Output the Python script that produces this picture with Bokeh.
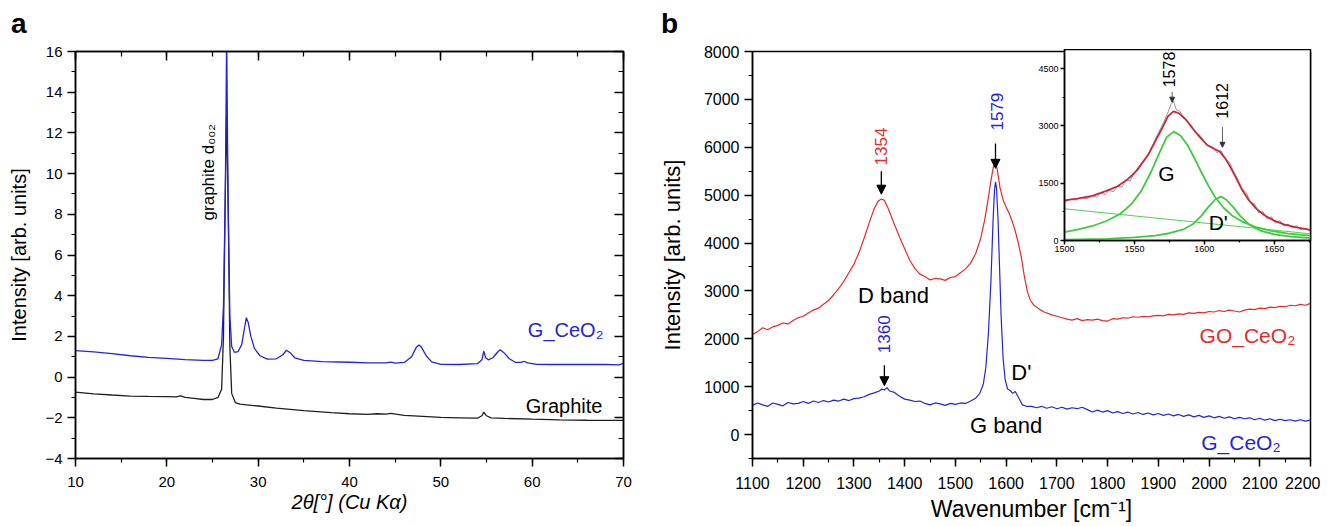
import math
from bokeh.plotting import figure
from bokeh.layouts import row
from bokeh.models import (LinearAxis, Range1d, SingleIntervalTicker, Arrow, NormalHead,
                          CustomLabelingPolicy, Div)
from bokeh.core.properties import value
from bokeh.embed import file_html
from bokeh.resources import INLINE

FONT = "Liberation Sans"
BLUE = "#2424d8"
RED = "#e42a2a"
GREEN = "#3ccc3c"

# ---------------- panel a : XRD ----------------
xrd_ceo2_x = [10, 12, 14, 16, 18, 20, 22, 24, 25, 25.6, 26.0, 26.2, 26.4, 26.55, 26.7, 26.9, 27.1,
              27.4, 27.8, 28.2, 28.5, 28.7, 28.9, 29.2, 29.6, 30.2, 31, 32, 32.7, 33.1, 33.5, 34, 35,
              37, 40, 42, 44, 44.5, 45, 46, 46.8, 47.3, 47.6, 47.9, 48.4, 49, 50, 52, 54, 54.5, 54.7,
              54.9, 55.2, 55.7, 56.2, 56.5, 56.9, 57.5, 58.2, 58.8, 59.1, 59.5, 60.5, 62, 65, 68, 69.5, 70]
xrd_ceo2_y = [1.30, 1.24, 1.15, 1.05, 0.97, 0.92, 0.86, 0.82, 0.82, 0.90, 1.6, 3.5, 9.0, 16.8, 9.0, 3.0, 1.5,
              1.22, 1.25, 1.6, 2.4, 2.92, 2.7, 2.0, 1.4, 1.05, 0.88, 0.90, 1.10, 1.32, 1.20, 0.95, 0.82,
              0.76, 0.73, 0.70, 0.70, 0.74, 0.69, 0.72, 1.00, 1.45, 1.58, 1.45, 1.05, 0.75, 0.63, 0.62, 0.66, 0.85, 1.28,
              0.95, 0.85, 0.95, 1.22, 1.34, 1.20, 0.90, 0.72, 0.72, 0.78, 0.70, 0.63, 0.62, 0.63, 0.62, 0.60, 0.68]

xrd_graphite_x = [10, 12, 14, 16, 18, 20, 21, 21.5, 22, 23, 24, 25, 25.6, 26.0, 26.2, 26.4, 26.55, 26.7, 26.9,
                  27.1, 27.5, 28, 30, 32, 35, 38, 40, 42, 43, 44, 44.5, 46, 48, 50, 52, 54, 54.5, 54.7, 55,
                  55.5, 57, 60, 63, 66, 70]
xrd_graphite_y = [-0.74, -0.82, -0.88, -0.93, -0.95, -0.96, -0.97, -0.92, -1.00, -1.05, -1.10, -1.10, -1.00,
                  -0.60, 2.0, 9.0, 12.9, 9.0, 1.5, -0.80, -1.25, -1.33, -1.42, -1.52, -1.65, -1.75, -1.80,
                  -1.83, -1.80, -1.82, -1.78, -1.88, -1.93, -1.98, -2.00, -2.02, -1.90, -1.72, -1.90, -2.00,
                  -2.03, -2.07, -2.10, -2.12, -2.13]

a_sample_text = ["G_CeO\u2082", "Graphite"]
a_sample_x = [67.8, 67.7]
a_sample_y = [2.3, -1.4]
a_sample_color = [BLUE, "black"]
a_peak_text = ["graphite   d\u2080\u2080\u2082"]
a_peak_x = [24.6]
a_peak_y = [7.7]

# ---------------- panel b : Raman ----------------
raman_g_x = [1100, 1110, 1120, 1130, 1140, 1150, 1160, 1170, 1180, 1190, 1200, 1210, 1220, 1230, 1240, 1250,
             1260, 1270, 1280, 1290, 1300, 1310, 1320, 1330, 1340, 1350, 1355, 1360, 1365, 1370, 1380, 1390,
             1400, 1410, 1420, 1430, 1440, 1450, 1460, 1470, 1480, 1490, 1500, 1510, 1520, 1530, 1540, 1548,
             1555, 1560, 1565, 1570, 1574, 1577, 1579, 1581, 1584, 1587, 1590, 1594, 1598, 1603, 1608, 1613,
             1618, 1622, 1627, 1632, 1640, 1650, 1660, 1670, 1680, 1690, 1700, 1710, 1720, 1730, 1740, 1750,
             1760, 1770, 1780, 1790, 1800, 1810, 1820, 1830, 1840, 1850, 1860, 1870, 1880, 1890, 1900, 1910,
             1920, 1930, 1940, 1950, 1960, 1970, 1980, 1990, 2000, 2010, 2020, 2030, 2040, 2050, 2060, 2070,
             2080, 2090, 2100, 2110, 2120, 2130, 2140, 2150, 2160, 2170, 2180, 2190, 2200]
raman_g_y = [610, 660, 620, 590, 660, 630, 600, 670, 640, 650, 690, 650, 700, 670, 710, 680,
             720, 700, 740, 710, 750, 760, 790, 840, 870, 910, 950, 930, 980, 910, 880, 800,
             740, 720, 690, 700, 650, 620, 660, 640, 610, 650, 630, 660, 650, 700, 760, 860,
             1050, 1400, 2100, 3200, 4400, 5100, 5280, 5150, 4500, 3500, 2500, 1600, 1150, 950, 920, 860,
             900, 820, 720, 620, 590, 590, 560, 590, 550, 580, 540, 570, 530, 560, 540, 570,
             520, 470, 510, 470, 500, 450, 480, 440, 470, 430, 460, 420, 450, 410, 440, 400,
             430, 390, 420, 380, 410, 370, 400, 360, 390, 350, 380, 340, 370, 330, 360, 330,
             350, 310, 340, 300, 330, 290, 320, 290, 310, 280, 310, 280, 300]

raman_go_x = [1100, 1110, 1120, 1130, 1140, 1150, 1160, 1170, 1180, 1190, 1200, 1210, 1220, 1230, 1240, 1250,
              1260, 1270, 1280, 1290, 1300, 1310, 1320, 1330, 1340, 1348, 1354, 1360, 1366, 1372, 1380, 1390,
              1400, 1410, 1420, 1430, 1440, 1450, 1460, 1470, 1480, 1490, 1500, 1510, 1520, 1530, 1540, 1550,
              1558, 1565, 1570, 1575, 1579, 1583, 1588, 1594, 1600, 1606, 1612, 1618, 1624, 1630, 1636, 1642,
              1648, 1655, 1665, 1675, 1690, 1700, 1710, 1720, 1730, 1740, 1750, 1760, 1770, 1780, 1790, 1800,
              1810, 1820, 1830, 1840, 1850, 1860, 1870, 1880, 1890, 1900, 1910, 1920, 1930, 1940, 1950, 1960,
              1970, 1980, 1990, 2000, 2010, 2020, 2030, 2040, 2050, 2060, 2070, 2080, 2090, 2100, 2110, 2120,
              2130, 2140, 2150, 2160, 2170, 2180, 2190, 2200]
raman_go_y = [2090, 2150, 2230, 2190, 2250, 2280, 2330, 2310, 2380, 2440, 2470, 2540, 2600, 2640, 2720, 2800,
              2920, 3050, 3200, 3380, 3560, 3800, 4100, 4420, 4720, 4880, 4920, 4890, 4760, 4600, 4380, 4120,
              3880, 3640, 3470, 3350, 3300, 3230, 3260, 3250, 3220, 3280, 3300, 3380, 3460, 3580, 3780, 4100,
              4500, 4950, 5300, 5600, 5720, 5500, 5150, 4900, 4750, 4620, 4450, 4250, 4000, 3700, 3300, 2980,
              2800, 2700, 2620, 2560, 2500, 2470, 2440, 2410, 2390, 2420, 2380, 2400, 2390, 2410, 2380, 2370,
              2420, 2410, 2440, 2430, 2460, 2450, 2470, 2460, 2480, 2490, 2480, 2510, 2500, 2520, 2510, 2540,
              2530, 2550, 2540, 2570, 2560, 2590, 2570, 2600, 2580, 2560, 2600, 2620, 2610, 2640, 2630, 2660,
              2650, 2680, 2670, 2700, 2690, 2720, 2700, 2740]

b_peak_text = ["1354", "1579", "1360"]
b_peak_x = [1354, 1582, 1360]
b_peak_y = [5620, 6350, 1700]
b_peak_color = [RED, BLUE, BLUE]
b_arrow_x = [1354, 1579, 1360]
b_arrow_y0 = [5500, 6080, 1450]
b_arrow_y1 = [5020, 5560, 1020]
b_band_text = ["D band", "G band", "D'"]
b_band_x = [1378, 1600, 1630]
b_band_y = [2900, 190, 1300]
b_sample_text = ["GO_CeO\u2082", "G_CeO\u2082"]
b_sample_x = [2170, 2141]
b_sample_y = [2070, -170]
b_sample_color = [RED, BLUE]

# ---------------- inset : fit of G region ----------------
inset_raw_x = [1500, 1504, 1508, 1512, 1516, 1520, 1523, 1526, 1529, 1532, 1535, 1538, 1541, 1544, 1547, 1550,
               1553, 1556, 1559, 1562, 1565, 1568, 1571, 1574, 1576, 1578, 1580, 1582, 1585, 1588, 1591, 1594,
               1597, 1600, 1603, 1606, 1609, 1612, 1615, 1618, 1621, 1624, 1627, 1630, 1633, 1636, 1639, 1642,
               1645, 1648, 1651, 1654, 1657, 1660, 1663, 1666, 1669, 1672, 1676]
inset_raw_y = [1000, 1080, 1060, 1120, 1090, 1180, 1130, 1260, 1200, 1310, 1280, 1420, 1400, 1580, 1560, 1790,
               1850, 2050, 2200, 2420, 2650, 2880, 3100, 3350, 3550, 3650, 3420, 3400, 3250, 3100, 3000, 2800,
               2750, 2600, 2480, 2450, 2300, 2350, 2150, 2050, 1800, 1600, 1350, 1250, 1000, 960, 720, 760,
               560, 620, 450, 520, 380, 430, 330, 390, 280, 320, 240]
inset_fit_x = [1500, 1510, 1520, 1530, 1538, 1545, 1550, 1555, 1560, 1565, 1570, 1574, 1578, 1582, 1587, 1592,
               1597, 1602, 1607, 1611, 1615, 1619, 1623, 1627, 1632, 1637, 1643, 1650, 1657, 1665, 1676]
inset_fit_y = [1053, 1100, 1170, 1300, 1420, 1600, 1760, 2000, 2250, 2600, 2950, 3250, 3380, 3330, 3160, 2920,
               2700, 2500, 2400, 2330, 2150, 1900, 1620, 1330, 1050, 840, 660, 520, 420, 350, 280]
inset_g_x = [1500, 1510, 1520, 1530, 1540, 1548, 1555, 1562, 1568, 1573, 1578, 1583, 1588, 1593, 1598, 1603,
             1608, 1614, 1620, 1628, 1637, 1648, 1660, 1676]
inset_g_y = [220, 290, 380, 510, 700, 960, 1300, 1800, 2300, 2700, 2850, 2750, 2500, 2150, 1780, 1430,
             1120, 850, 650, 480, 350, 250, 180, 130]
inset_d_x = [1500, 1530, 1550, 1565, 1575, 1585, 1592, 1598, 1603, 1608, 1612, 1616, 1621, 1626, 1632, 1640,
             1650, 1662, 1676]
inset_d_y = [20, 45, 80, 130, 190, 290, 430, 650, 880, 1080, 1150, 1060, 860, 630, 420, 260, 160, 100, 65]
inset_base_x = [1500, 1676]
inset_base_y = [830, 175]

in_peak_text = ["1578", "1612"]
in_peak_x = [1575, 1613]
in_peak_y = [4010, 3190]
in_arrow_x = [1577, 1613]
in_arrow_y0 = [3890, 2970]
in_arrow_y1 = [3620, 2440]
in_band_text = ["G", "D'"]
in_band_x = [1573, 1610]
in_band_y = [1767, 480]

panel_letters = ["a", "b"]

HIDE_LABELS = ("try { const all = Array.from(indices); for (const i of all) { indices.unset(i) } } "
               "catch (e) {} return indices")


def style_axis(ax, fs, mo, mi, no, ni, labels=True):
    ax.axis_line_color = "black"
    ax.axis_line_width = 1.5
    ax.major_tick_line_color = "black"
    ax.major_tick_line_width = 1.5
    ax.minor_tick_line_color = "black"
    ax.minor_tick_line_width = 1.2
    ax.major_tick_out = mo
    ax.major_tick_in = mi
    ax.minor_tick_out = no
    ax.minor_tick_in = ni
    ax.major_label_text_font = FONT
    ax.major_label_text_font_size = fs
    ax.major_label_text_color = "black"
    ax.axis_label_text_font = FONT
    ax.axis_label_text_font_style = "normal"
    ax.axis_label_text_color = "black"
    if not labels:
        ax.major_label_text_font_size = "0px"
        ax.major_label_standoff = 0
        ax.major_label_policy = CustomLabelingPolicy(code=HIDE_LABELS)


def base_fig(**kw):
    p = figure(output_backend="svg", toolbar_location=None, **kw)
    p.grid.visible = False
    p.outline_line_color = "black"
    p.outline_line_width = 1.5
    p.outline_line_alpha = 1.0
    p.background_fill_color = "white"
    return p


def letter_div(txt, left, top):
    return Div(text=txt, width=36, height=40,
               styles={"position": "absolute", "left": f"{left}px", "top": f"{top}px",
                       "font-family": FONT, "font-size": "28px", "font-weight": "bold",
                       "line-height": "normal", "color": "black", "margin": "0", "padding": "0"})


# ---------- figure a ----------
pa = base_fig(width=656, height=526, x_range=Range1d(10, 70), y_range=Range1d(-4, 16),
              min_border_left=75, min_border_right=33, min_border_top=51, min_border_bottom=68)

pa.xaxis.ticker = SingleIntervalTicker(interval=10, num_minor_ticks=2)
pa.yaxis.ticker = SingleIntervalTicker(interval=2, num_minor_ticks=2)
style_axis(pa.xaxis[0], "15px", 8, 0, 4, 0)
style_axis(pa.yaxis[0], "15px", 8, 0, 4, 0)
pa.xaxis.major_label_standoff = 10
pa.xaxis.axis_label = "2\u03b8[\u00b0] (Cu K\u03b1)"
pa.xaxis.axis_label_text_font_style = "italic"
pa.xaxis.axis_label_text_font_size = "20px"
pa.xaxis.axis_label_standoff = 1
pa.yaxis.axis_label = "Intensity [arb. units]"
pa.yaxis.axis_label_text_font_size = "20px"
pa.yaxis.axis_label_standoff = 12

top_a = LinearAxis(ticker=SingleIntervalTicker(interval=10, num_minor_ticks=2))
right_a = LinearAxis(ticker=SingleIntervalTicker(interval=2, num_minor_ticks=2))
style_axis(top_a, "15px", 0, 9, 0, 5, labels=False)
style_axis(right_a, "15px", 0, 9, 0, 5, labels=False)
pa.add_layout(top_a, "above")
pa.add_layout(right_a, "right")

pa.line(xrd_graphite_x, xrd_graphite_y, line_color="#202020", line_width=1.3)
pa.line(xrd_ceo2_x, xrd_ceo2_y, line_color=BLUE, line_width=1.3)

pa.text(x=a_sample_x, y=a_sample_y, text=a_sample_text, text_color=a_sample_color,
        text_font=value(FONT), text_font_size="20px", text_align="right", text_baseline="middle")
pa.text(x=a_peak_x, y=a_peak_y, text=a_peak_text, angle=math.pi / 2, text_color="black",
        text_font=value(FONT), text_font_size="17px", text_align="left", text_baseline="middle")

# ---------- figure b ----------
pb = base_fig(width=664, height=526, x_range=Range1d(1100, 2200), y_range=Range1d(-500, 8000),
              min_border_left=96, min_border_right=10, min_border_top=49, min_border_bottom=68)

pb.xaxis.ticker = SingleIntervalTicker(interval=100, num_minor_ticks=2)
pb.yaxis.ticker = SingleIntervalTicker(interval=1000, num_minor_ticks=2)
style_axis(pb.xaxis[0], "16px", 8, 0, 4, 0)
style_axis(pb.yaxis[0], "16px", 8, 0, 4, 0)
pb.xaxis.major_label_standoff = 10
pb.xaxis.axis_label = "Wavenumber [cm\u207b\u00b9]"
pb.xaxis.axis_label_text_font_size = "23px"
pb.xaxis.axis_label_standoff = 4
pb.yaxis.axis_label = "Intensity [arb. units]"
pb.yaxis.axis_label_text_font_size = "22px"
pb.yaxis.axis_label_standoff = 16

pb.line(raman_go_x, raman_go_y, line_color=RED, line_width=1.2)
pb.line(raman_g_x, raman_g_y, line_color=BLUE, line_width=1.2)

pb.text(x=b_peak_x, y=b_peak_y, text=b_peak_text, angle=math.pi / 2, text_color=b_peak_color,
        text_font=value(FONT), text_font_size="17px", text_align="left", text_baseline="middle")
for xa, y0, y1 in zip(b_arrow_x, b_arrow_y0, b_arrow_y1):
    pb.add_layout(Arrow(x_start=xa, y_start=y0, x_end=xa, y_end=y1, line_color="black", line_width=1.3,
                        end=NormalHead(size=9, fill_color="black", line_color="black")))
pb.text(x=b_band_x, y=b_band_y, text=b_band_text, text_color="black",
        text_font=value(FONT), text_font_size="22px", text_align="center", text_baseline="middle")
pb.text(x=b_sample_x, y=b_sample_y, text=b_sample_text, text_color=b_sample_color,
        text_font=value(FONT), text_font_size="21px", text_align="right", text_baseline="middle")

# ---------- inset ----------
pi = base_fig(width=278, height=205, x_range=Range1d(1500, 1676), y_range=Range1d(0, 5000),
              min_border_left=30, min_border_right=2, min_border_top=0, min_border_bottom=14,
              styles={"position": "absolute", "left": "1034px", "top": "49px"})
pi.border_fill_color = None
pi.xaxis.ticker = SingleIntervalTicker(interval=50, num_minor_ticks=2)
pi.yaxis.ticker = SingleIntervalTicker(interval=1500, num_minor_ticks=2)
style_axis(pi.xaxis[0], "9px", 4, 0, 2, 0)
style_axis(pi.yaxis[0], "9px", 4, 0, 2, 0)
pi.xaxis.major_label_standoff = 1
pi.yaxis.major_label_standoff = 2

pi.line(inset_base_x, inset_base_y, line_color=GREEN, line_width=0.9)
pi.line(inset_d_x, inset_d_y, line_color=GREEN, line_width=1.8)
pi.line(inset_g_x, inset_g_y, line_color=GREEN, line_width=1.8)
pi.line(inset_raw_x, inset_raw_y, line_color="#777777", line_width=0.8)
pi.line(inset_fit_x, inset_fit_y, line_color="#c8283a", line_width=1.8)

pi.text(x=in_peak_x, y=in_peak_y, text=in_peak_text, angle=math.pi / 2, text_color="black",
        text_font=value(FONT), text_font_size="16px", text_align="left", text_baseline="middle")
for xa, y0, y1 in zip(in_arrow_x, in_arrow_y0, in_arrow_y1):
    pi.add_layout(Arrow(x_start=xa, y_start=y0, x_end=xa, y_end=y1, line_color="#333333", line_width=0.8,
                        end=NormalHead(size=5, fill_color="#333333", line_color="#333333")))
pi.text(x=in_band_x, y=in_band_y, text=in_band_text, text_color="black",
        text_font=value(FONT), text_font_size="21px", text_align="center", text_baseline="middle")

div_a = letter_div(panel_letters[0], 11, 8)
div_b = letter_div(panel_letters[1], 661, 8)

layout = row(pa, pb)
open("out.html", "w").write(file_html([layout, pi, div_a, div_b], INLINE))
